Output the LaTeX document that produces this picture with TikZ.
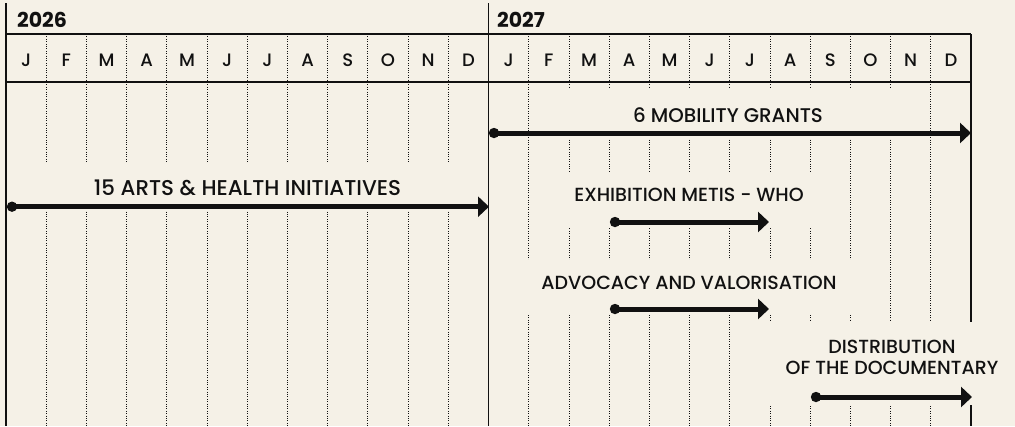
\documentclass[tikz,border=0pt]{standalone}
\usepackage{fontspec}
\setmainfont{Poppins}
\newfontfamily\medfont{Poppins Medium}
\usepackage{xcolor}
\usetikzlibrary{arrows.meta}
\definecolor{paper}{RGB}{245,241,231}
\definecolor{ink}{RGB}{17,17,17}

\begin{document}
\begin{tikzpicture}[x=1pt,y=-1pt,
  grid/.style={ink,line width=0.8pt,dash pattern=on 1pt off 1.4pt},
  rule/.style={ink,line width=1.3pt},
  gap/.style={fill=paper},
  task/.style={ink,line width=5pt,{Circle[length=10pt]}-{Triangle[length=11pt,width=20pt]}},
  tasklabel/.style={text=ink,font=\medfont\fontsize{19}{21}\selectfont},
  month/.style={text=ink,font=\medfont\fontsize{18}{21}\selectfont},
  year/.style={text=ink,font=\fontsize{20.5}{24}\selectfont\bfseries}]
\tikzstyle{every node}+=[inner sep=0pt]
\fill [paper] (0,0) rectangle (1015,426);
\foreach \k in {1,...,11,13,14,...,23}
  \draw [grid] ({6+\k*40.21},34) -- ({6+\k*40.21},426);
\draw [rule] (971,34) -- (971,426);
\fill [gap] (8,162) rectangle (487,210);
\fill [gap] (535,89) rectangle (924,138);
\fill [gap] (540,172) rectangle (825,227);
\fill [gap] (515,260) rectangle (870,315);
\fill [gap] (750,322) rectangle (1015,405);
\draw [rule] (6,3) -- (6,426);
\draw [rule] (488.5,3) -- (488.5,426);
\draw [rule] (6,34) -- (971,34);
\draw [rule] (6,82) -- (971,82);
\node [year] (y2026) at (42,19.5) {2026};
\node [year] (y2027) at (521,19.5) {2027};
\foreach \m [count=\i] in {J,F,M,A,M,J,J,A,S,O,N,D,J,F,M,A,M,J,J,A,S,O,N,D}
  \node [month] (m\i) at ({6+(\i-0.5)*40.21},60) {\m};
\node [tasklabel,font=\medfont\fontsize{21.4}{24}\selectfont] (artsT) at (247.5,188) {15 ARTS \& HEALTH INITIATIVES};
\node [tasklabel,font=\medfont\fontsize{19.8}{22}\selectfont] (mobT) at (728,115) {6 MOBILITY GRANTS};
\node [tasklabel] (exhT) at (689,195) {EXHIBITION METIS - WHO};
\node [tasklabel] (advT) at (689,283) {ADVOCACY AND VALORISATION};
\node [tasklabel,align=center] (docT) at (892,357) {DISTRIBUTION\\OF THE DOCUMENTARY};
\coordinate (artsS) at (7,206.7);
\coordinate (artsE) at (489,206.7);
\coordinate (mobS) at (489,133);
\coordinate (mobE) at (971,133);
\coordinate (exhS) at (610,222);
\coordinate (exhE) at (769,222);
\coordinate (advS) at (610,309);
\coordinate (advE) at (769,309);
\coordinate (docS) at (811,397);
\coordinate (docE) at (972,397);
\draw [task] (artsS) -- (artsE);
\draw [task] (mobS) -- (mobE);
\draw [task] (exhS) -- (exhE);
\draw [task] (advS) -- (advE);
\draw [task] (docS) -- (docE);
\end{tikzpicture}
\end{document}
